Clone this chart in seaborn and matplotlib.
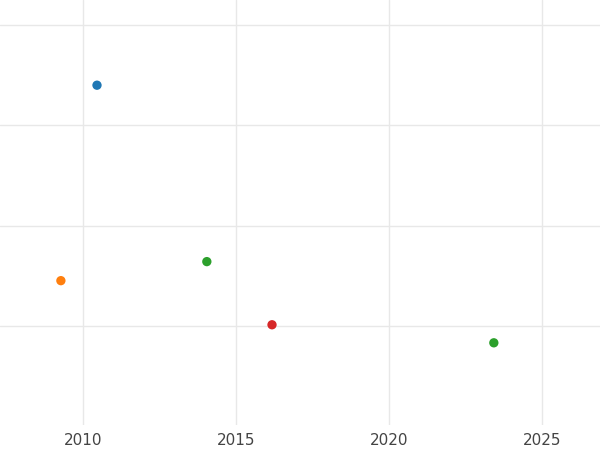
import matplotlib
matplotlib.use("Agg")
import matplotlib.pyplot as plt
import seaborn as sns
import pandas as pd

years = [2010.46, 2009.28, 2014.05, 2016.18, 2023.43]
values = [2.40, 0.45, 0.64, 0.01, -0.17]
groups = ["A", "B", "C", "D", "C"]
colors = {"A": "#1f77b4", "B": "#ff7f0e", "C": "#2ca02c", "D": "#d62728"}

df = pd.DataFrame({"year": years, "value": values, "group": groups})

sns.set_style("white")
fig = plt.figure(figsize=(6, 4.5), dpi=100)
ax = fig.add_axes([0, 25/450, 1, 425/450])
sns.scatterplot(data=df, x="year", y="value", hue="group", palette=colors,
                s=45, edgecolor="none", legend=False, ax=ax, zorder=3)
ax.set_xlim(2007.29, 2026.9)
ax.set_ylim(-0.99, 3.25)
ax.set_xticks([2010, 2015, 2020, 2025])
ax.set_yticks([0, 1, 2, 3])
ax.set_yticklabels([])
ax.tick_params(axis="y", length=0)
ax.tick_params(axis="x", length=0, labelsize=11, colors="#444444", pad=6)
ax.grid(True, color="#e8e8e8", linewidth=1)
ax.set_xlabel("")
ax.set_ylabel("")
for s in ax.spines.values():
    s.set_visible(False)
fig.savefig("out.png", dpi=100)
